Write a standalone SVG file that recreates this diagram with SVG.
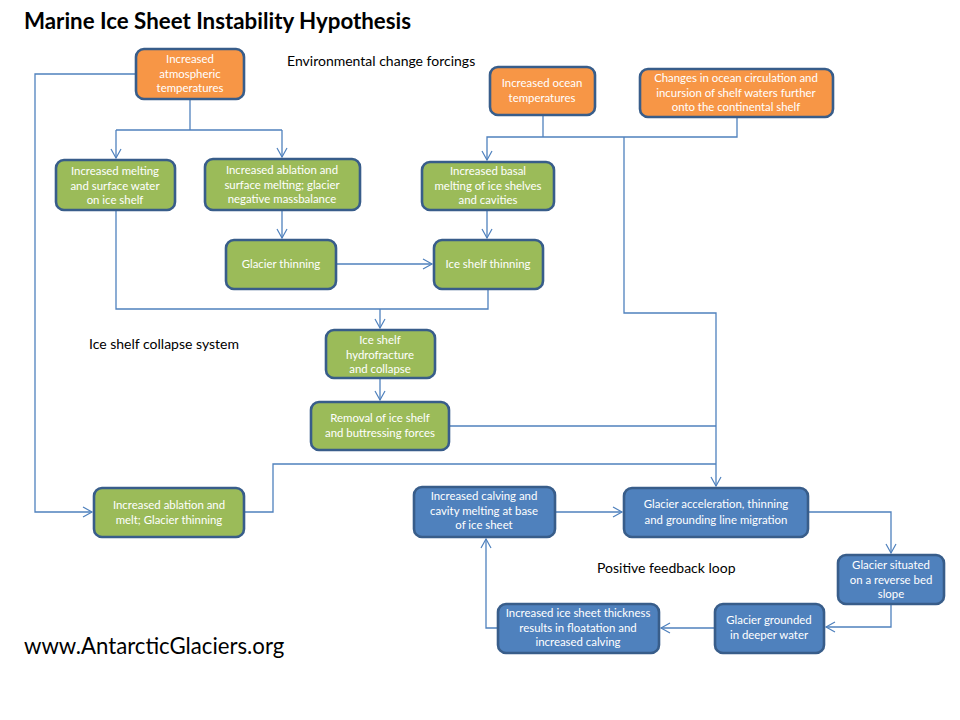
<svg xmlns="http://www.w3.org/2000/svg" width="960" height="720" viewBox="0 0 960 720">
<defs>
<marker id="arr" markerWidth="12" markerHeight="12" refX="10" refY="6" orient="auto" markerUnits="userSpaceOnUse">
<path d="M1,1 L10,6 L1,11" fill="none" stroke="#4F81BD" stroke-width="1.2"/>
</marker>
<style>
.box rect{stroke:#385D8A;stroke-width:2.6}
.or rect{fill:#F79646}
.gr rect{fill:#9BBB59}
.bl rect{fill:#4F81BD}
.box text{fill:#fff;font-family:Lato,"Liberation Sans",sans-serif;font-size:11.4px;text-anchor:middle}
.lbl{fill:#000;font-family:Lato,"Liberation Sans",sans-serif;font-size:14px}
#connectors path{fill:none;stroke:#4F81BD;stroke-width:1.3}
</style>
</defs>
<rect width="960" height="720" fill="#fff"/>
<text x="24" y="29" font-family="Lato,'Liberation Sans',sans-serif" font-size="22.3" font-weight="bold" fill="#000">Marine Ice Sheet Instability Hypothesis</text>
<text class="lbl" x="287" y="66">Environmental change forcings</text>
<text class="lbl" x="89" y="349">Ice shelf collapse system</text>
<text class="lbl" x="597" y="573">Positive feedback loop</text>
<text x="24" y="654" font-family="Lato,'Liberation Sans',sans-serif" font-size="22.2" fill="#000">www.AntarcticGlaciers.org</text>

<g id="connectors">
<path d="M136,74 H35 V512 H92" marker-end="url(#arr)"/>
<path d="M190,99 V130"/>
<path d="M116,130 H282"/>
<path d="M116,130 V158" marker-end="url(#arr)"/>
<path d="M282,130 V157" marker-end="url(#arr)"/>
<path d="M116,210 V309 H488 V289"/>
<path d="M380,309 V328" marker-end="url(#arr)"/>
<path d="M282,210 V238" marker-end="url(#arr)"/>
<path d="M336,264 H432" marker-end="url(#arr)"/>
<path d="M487,210 V238" marker-end="url(#arr)"/>
<path d="M543,115 V137"/>
<path d="M737,117 V137 H487 V160" marker-end="url(#arr)"/>
<path d="M624,137 V313 H716 V486" marker-end="url(#arr)"/>
<path d="M380,378 V400" marker-end="url(#arr)"/>
<path d="M449,426 H716"/>
<path d="M244,512 H273 V464 H716"/>
<path d="M555,512 H622" marker-end="url(#arr)"/>
<path d="M808,512 H891 V553" marker-end="url(#arr)"/>
<path d="M891,604 V627 H826" marker-end="url(#arr)"/>
<path d="M715,628 H661" marker-end="url(#arr)"/>
<path d="M498,628 H486 V539" marker-end="url(#arr)"/>
</g>

<g id="n-atmos" class="box or"><rect x="136" y="49" width="108" height="50" rx="8"/>
<text x="190" y="63">Increased</text><text x="190" y="78">atmospheric</text><text x="190" y="92">temperatures</text></g>
<g id="n-ocean" class="box or"><rect x="490" y="67" width="105" height="48" rx="8"/>
<text x="542" y="87">Increased ocean</text><text x="542" y="102">temperatures</text></g>
<g id="n-circ" class="box or"><rect x="640" y="69" width="193" height="48" rx="8"/>
<text x="736" y="82">Changes in ocean circulation and</text><text x="736" y="97">incursion of shelf waters further</text><text x="736" y="111">onto the continental shelf</text></g>

<g id="n-melt" class="box gr"><rect x="56" y="160" width="119" height="50" rx="8"/>
<text x="115" y="175">Increased melting</text><text x="115" y="190">and surface water</text><text x="115" y="204">on ice shelf</text></g>
<g id="n-ablation" class="box gr"><rect x="205" y="159" width="155" height="51" rx="8"/>
<text x="282" y="174">Increased ablation and</text><text x="282" y="189">surface melting; glacier</text><text x="282" y="203">negative massbalance</text></g>
<g id="n-basal" class="box gr"><rect x="422" y="162" width="132" height="48" rx="8"/>
<text x="488" y="175">Increased basal</text><text x="488" y="190">melting of ice shelves</text><text x="488" y="204">and cavities</text></g>
<g id="n-gthin" class="box gr"><rect x="226" y="240" width="110" height="49" rx="8"/>
<text x="281" y="268">Glacier thinning</text></g>
<g id="n-isthin" class="box gr"><rect x="434" y="240" width="109" height="49" rx="8"/>
<text x="488" y="268">Ice shelf thinning</text></g>
<g id="n-hydro" class="box gr"><rect x="326" y="330" width="109" height="48" rx="8"/>
<text x="380" y="344">Ice shelf</text><text x="380" y="359">hydrofracture</text><text x="380" y="373">and collapse</text></g>
<g id="n-removal" class="box gr"><rect x="311" y="402" width="138" height="48" rx="8"/>
<text x="380" y="422">Removal of ice shelf</text><text x="380" y="437">and buttressing forces</text></g>
<g id="n-abmelt" class="box gr"><rect x="94" y="488" width="150" height="49" rx="8"/>
<text x="169" y="509">Increased ablation and</text><text x="169" y="524">melt; Glacier thinning</text></g>

<g id="n-calving" class="box bl"><rect x="414" y="487" width="141" height="50" rx="8"/>
<text x="484" y="500">Increased calving and</text><text x="484" y="515">cavity melting at  base</text><text x="484" y="529">of ice sheet</text></g>
<g id="n-accel" class="box bl"><rect x="624" y="488" width="184" height="49" rx="8"/>
<text x="716" y="508">Glacier acceleration, thinning</text><text x="716" y="524">and grounding line migration</text></g>
<g id="n-reverse" class="box bl"><rect x="838" y="555" width="106" height="49" rx="8"/>
<text x="891" y="569">Glacier situated</text><text x="891" y="584">on a reverse bed</text><text x="891" y="598">slope</text></g>
<g id="n-deeper" class="box bl"><rect x="715" y="604" width="109" height="49" rx="8"/>
<text x="769" y="624">Glacier grounded</text><text x="769" y="639">in deeper water</text></g>
<g id="n-thick" class="box bl"><rect x="498" y="604" width="161" height="49" rx="8"/>
<text x="578" y="617">Increased ice sheet thickness</text><text x="578" y="632">results in floatation and</text><text x="578" y="646">increased calving</text></g>
</svg>
